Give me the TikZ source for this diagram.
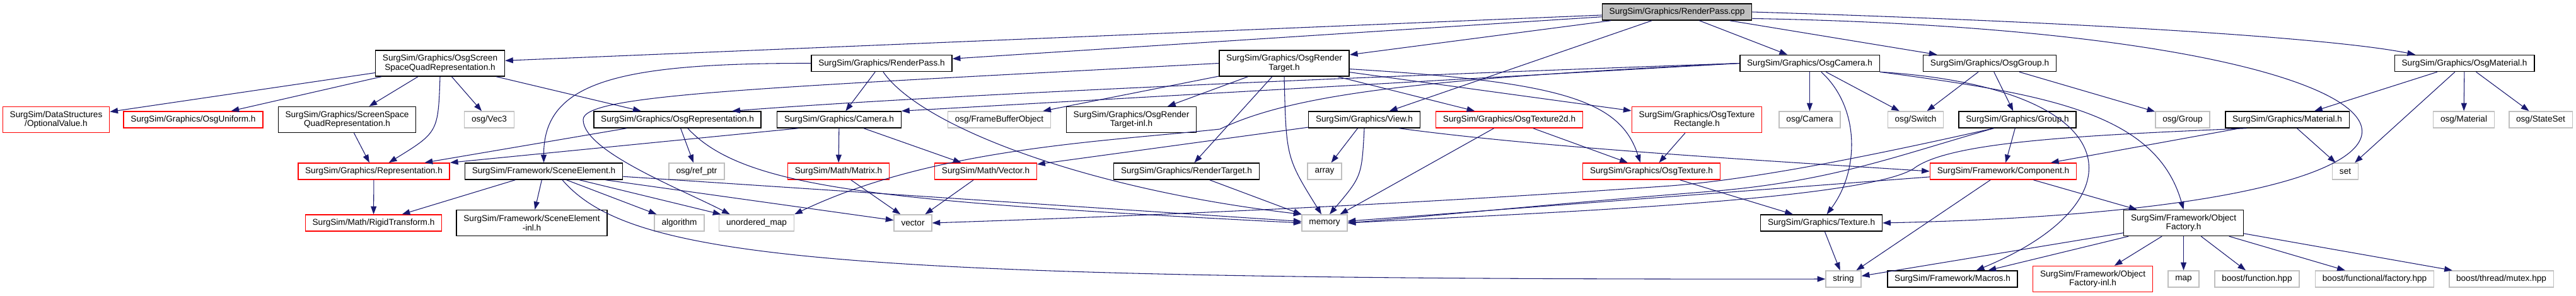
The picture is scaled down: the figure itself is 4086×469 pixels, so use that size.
\documentclass[tikz,border=0pt]{standalone}
\usepackage{fontspec}
\setmainfont{Liberation Sans}
\usetikzlibrary{arrows.meta}
\definecolor{edgeblue}{RGB}{25,25,112}
\definecolor{sysgray}{RGB}{191,191,191}

\begin{document}
\begin{tikzpicture}[x=0.75pt, y=-0.75pt,
  >={Triangle[length=9.5pt,width=6.8pt]},
  file/.style={draw=black, line width=1.1pt, fill=white, inner xsep=8.5pt, inner ysep=1pt,
    minimum height=19.5pt, align=center, font=\fontsize{10.2}{10.75}\selectfont},
  twoline/.style={minimum height=30.75pt},
  redfile/.style={file, draw=red},
  sysfile/.style={file, draw=sysgray},
  rootfile/.style={file, fill=sysgray},
  dep/.style={->, draw=edgeblue, line width=0.8pt}]
  \useasboundingbox (0,0) rectangle (4086,469);
  % top file
  \node[rootfile] (rpcpp) at (2660,19) {SurgSim/Graphics/RenderPass.cpp};
  % second row
  \node[file, twoline] (ssqr) at (698,100.5) {SurgSim/Graphics/OsgScreen\\SpaceQuadRepresentation.h};
  \node[file] (rpass) at (1398.5,100.5) {SurgSim/Graphics/RenderPass.h};
  \node[file, twoline] (osgrt) at (2037,100.5) {SurgSim/Graphics/OsgRender\\Target.h};
  \node[file] (osgcam) at (2870.5,100.5) {SurgSim/Graphics/OsgCamera.h};
  \node[file] (osggrp) at (3156,100.5) {SurgSim/Graphics/OsgGroup.h};
  \node[file] (osgmat) at (3909,100.5) {SurgSim/Graphics/OsgMaterial.h};
  % third row
  \node[redfile, twoline] (optval) at (89,190) {SurgSim/DataStructures\\/OptionalValue.h};
  \node[redfile] (osgunif) at (306.5,190) {SurgSim/Graphics/OsgUniform.h};
  \node[file, twoline] (ssq) at (550.5,190) {SurgSim/Graphics/ScreenSpace\\QuadRepresentation.h};
  \node[sysfile] (vecthree) at (776,190) {osg/Vec3};
  \node[file] (osgrep) at (1074.5,190) {SurgSim/Graphics/OsgRepresentation.h};
  \node[file] (cam) at (1331,190) {SurgSim/Graphics/Camera.h};
  \node[sysfile] (fbo) at (1585,190) {osg/FrameBufferObject};
  \node[file, twoline] (rtinl) at (1794.5,190) {SurgSim/Graphics/OsgRender\\Target-inl.h};
  \node[file] (view) at (2164,190) {SurgSim/Graphics/View.h};
  \node[redfile] (texdd) at (2394,190) {SurgSim/Graphics/OsgTexture2d.h};
  \node[redfile, twoline] (texrect) at (2691.5,190) {SurgSim/Graphics/OsgTexture\\Rectangle.h};
  \node[sysfile] (osgcamera) at (2870.5,190) {osg/Camera};
  \node[sysfile] (osgswitch) at (3038.5,190) {osg/Switch};
  \node[file] (group) at (3200,190) {SurgSim/Graphics/Group.h};
  \node[sysfile] (osggroup) at (3462,190) {osg/Group};
  \node[file] (material) at (3628,190) {SurgSim/Graphics/Material.h};
  \node[sysfile] (osgmaterial) at (3908,190) {osg/Material};
  \node[sysfile] (stateset) at (4030,190) {osg/StateSet};
  % fourth row
  \node[redfile] (rep) at (593,272) {SurgSim/Graphics/Representation.h};
  \node[file] (scene) at (862.5,272) {SurgSim/Framework/SceneElement.h};
  \node[sysfile] (refptr) at (1105,272) {osg/ref\_ptr};
  \node[redfile] (matrix) at (1330,272) {SurgSim/Math/Matrix.h};
  \node[redfile] (mvector) at (1563.5,272) {SurgSim/Math/Vector.h};
  \node[file] (rtarget) at (1882,272) {SurgSim/Graphics/RenderTarget.h};
  \node[sysfile] (array) at (2101,272) {array};
  \node[redfile] (osgtex) at (2619.5,272) {SurgSim/Graphics/OsgTexture.h};
  \node[redfile] (comp) at (3177.5,272) {SurgSim/Framework/Component.h};
  \node[sysfile] (set) at (3720,272) {set};
  % fifth row
  \node[redfile] (rigid) at (592.5,354) {SurgSim/Math/RigidTransform.h};
  \node[file, twoline] (sceneinl) at (843.5,354) {SurgSim/Framework/SceneElement\\-inl.h};
  \node[sysfile] (algo) at (1077.5,354) {algorithm};
  \node[sysfile] (umap) at (1200,354) {unordered\_map};
  \node[sysfile] (vec) at (1448,354) {vector};
  \node[sysfile] (memory) at (2101,354) {memory};
  \node[file] (texture) at (2889,354) {SurgSim/Graphics/Texture.h};
  \node[file, twoline] (objfac) at (3463.5,354) {SurgSim/Framework/Object\\Factory.h};
  % bottom row
  \node[sysfile] (string) at (2924,443) {string};
  \node[file] (macros) at (3097,443) {SurgSim/Framework/Macros.h};
  \node[redfile, twoline] (objfacinl) at (3319.5,443) {SurgSim/Framework/Object\\Factory-inl.h};
  \node[sysfile] (map) at (3463.5,443) {map};
  \node[sysfile] (bfunc) at (3580,443) {boost/function.hpp};
  \node[sysfile] (bfactory) at (3766.5,443) {boost/functional/factory.hpp};
  \node[sysfile] (bmutex) at (3967.5,443) {boost/thread/mutex.hpp};

  % includes of RenderPass.cpp
  \draw[dep] (rpcpp) -- (ssqr);
  \draw[dep] (rpcpp) -- (rpass);
  \draw[dep] (rpcpp) -- (osgrt);
  \draw[dep] (rpcpp) -- (view);
  \draw[dep] (rpcpp) -- (osgcam);
  \draw[dep] (rpcpp) -- (osggrp);
  \draw[dep] (rpcpp.east) .. controls (3300,35) and (3700,60) .. (osgmat.170);
  \draw[dep] (rpcpp.-5) .. controls (3950,50) and (4100,330) .. (texture.east);
  % OsgScreenSpaceQuadRepresentation.h
  \draw[dep] (ssqr) -- (optval);
  \draw[dep] (ssqr) -- (osgunif);
  \draw[dep] (ssqr) -- (ssq);
  \draw[dep] (ssqr.south) .. controls (695,210) .. (rep.30);
  \draw[dep] (ssqr) -- (vecthree);
  \draw[dep] (ssqr) -- (osgrep);
  \draw[dep] (ssq) -- (rep);
  \draw[dep] (rep) -- (rigid);
  % OsgRepresentation.h and Camera.h
  \draw[dep] (osgrep) -- (rep);
  \draw[dep] (osgrep) -- (refptr);
  \draw[dep] (osgrep.-40) .. controls (1180,300) and (1400,320) .. (memory.west);
  \draw[dep] (cam.-168) -- (rep.north east);
  \draw[dep] (cam) -- (matrix);
  \draw[dep] (cam) -- (mvector);
  % RenderPass.h
  \draw[dep] (rpass) -- (cam);
  \draw[dep] (rpass.west) .. controls (980,100) and (862,130) .. (scene.north);
  \draw[dep] (rpass.-80) .. controls (1460,200) and (1720,300) .. (memory.north west);
  % OsgRenderTarget.h
  \draw[dep] (osgrt.west) .. controls (1200,140) and (925,150) .. (925,190)
    .. controls (925,240) and (1080,300) .. (umap.162);
  \draw[dep] (osgrt) -- (fbo);
  \draw[dep] (osgrt) -- (rtinl);
  \draw[dep] (osgrt) -- (rtarget);
  \draw[dep] (osgrt.south) .. controls (2040,250) .. (memory.110);
  \draw[dep] (osgrt.-5) .. controls (2480,130) and (2570,160) .. (osgtex.142);
  \draw[dep] (osgrt) -- (texrect);
  \draw[dep] (osgrt) -- (texdd);
  % View.h
  \draw[dep] (view) -- (array);
  \draw[dep] (view.south) .. controls (2160,280) .. (memory.60);
  \draw[dep] (view) -- (mvector);
  \draw[dep] (view.-14) .. controls (2450,235) and (2800,255) .. (comp.west);
  % textures
  \draw[dep] (texdd) -- (memory);
  \draw[dep] (texdd) -- (osgtex);
  \draw[dep] (texrect) -- (osgtex);
  \draw[dep] (osgtex) -- (texture);
  \draw[dep] (texture) -- (string);
  % OsgCamera.h
  \draw[dep] (osgcam.west) .. controls (2200,120) and (1500,150) .. (osgrep.9);
  \draw[dep] (osgcam.west) -- (cam.north east);
  \draw[dep] (osgcam.west) .. controls (2250,125) and (2050,150) .. (1935,205)
    .. controls (1750,225) and (1480,235) .. (umap.north east);
  \draw[dep] (osgcam) -- (osgcamera);
  \draw[dep] (osgcam.-37) .. controls (2950,170) and (2950,270) .. (texture.58);
  \draw[dep] (osgcam) -- (osgswitch);
  \draw[dep] (osgcam.south east) .. controls (3250,150) and (3420,180) .. (objfac.north);
  \draw[dep] (osgcam.south east) .. controls (3380,140) and (3400,320) .. (macros.20);
  % OsgGroup.h and Group.h
  \draw[dep] (osggrp) -- (osgswitch);
  \draw[dep] (osggrp) -- (group);
  \draw[dep] (osggrp) -- (osggroup);
  \draw[dep] (group.-160) .. controls (3000,240) and (2800,283) .. (2650,295)
    .. controls (2300,320) and (1900,340) .. (vec.east);
  \draw[dep] (group.-160) .. controls (3000,250) and (2900,290) .. (2700,305)
    .. controls (2450,325) and (2250,345) .. (memory.east);
  \draw[dep] (group) -- (comp);
  % OsgMaterial.h and Material.h
  \draw[dep] (material.-168) .. controls (3300,215) and (3090,225) .. (3035,268)
    .. controls (2950,320) and (2400,340) .. (memory.east);
  \draw[dep] (material) -- (comp);
  \draw[dep] (material) -- (set);
  \draw[dep] (osgmat) -- (material);
  \draw[dep] (osgmat) -- (set);
  \draw[dep] (osgmat) -- (osgmaterial);
  \draw[dep] (osgmat) -- (stateset);
  % Component.h
  \draw[dep] (comp) -- (memory);
  \draw[dep] (comp) -- (string);
  \draw[dep] (comp) -- (objfac);
  % ObjectFactory.h
  \draw[dep] (objfac) -- (string);
  \draw[dep] (objfac) -- (macros);
  \draw[dep] (objfac) -- (objfacinl);
  \draw[dep] (objfac) -- (map);
  \draw[dep] (objfac) -- (bfunc);
  \draw[dep] (objfac) -- (bfactory);
  \draw[dep] (objfac) -- (bmutex);
  % SceneElement.h
  \draw[dep] (scene) -- (rigid);
  \draw[dep] (scene) -- (sceneinl);
  \draw[dep] (scene) -- (algo);
  \draw[dep] (scene) -- (umap);
  \draw[dep] (scene) -- (vec);
  \draw[dep] (scene) -- (memory);
  \draw[dep] (scene.-25) .. controls (1000,410) and (1300,445) .. (string.west);
  % math headers
  \draw[dep] (matrix) -- (vec);
  \draw[dep] (mvector) -- (vec);
  \draw[dep] (rtarget) -- (memory);
\end{tikzpicture}
\end{document}
